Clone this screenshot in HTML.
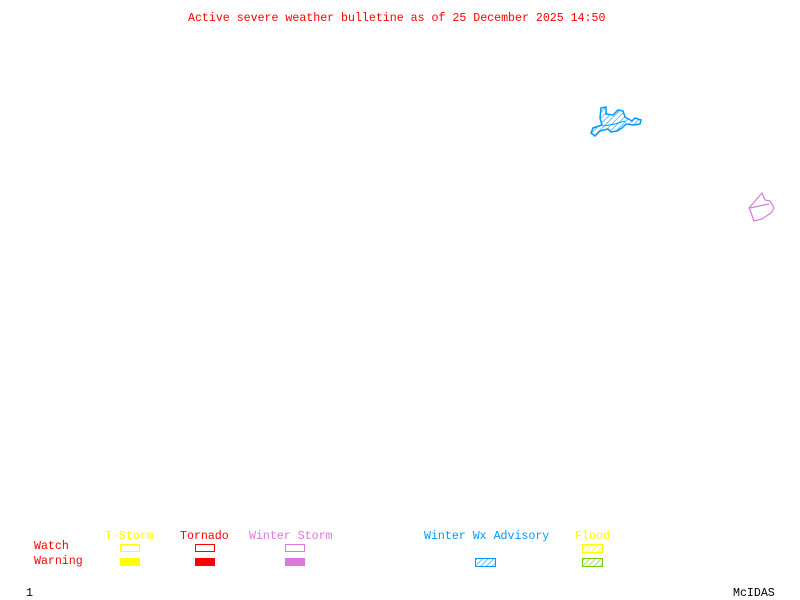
<!DOCTYPE html>
<html><head><style>
body{margin:0;width:800px;height:600px;background:#fff;position:relative;overflow:hidden;font-family:"Liberation Mono",monospace;font-size:11.6px}
.t{position:absolute;white-space:pre;line-height:12px}
.b{position:absolute;width:20px;height:8px;box-sizing:border-box}
</style></head><body>
<div class="t" style="left:188px;top:13px;color:#f00">Active severe weather bulletine as of 25 December 2025 14:50</div>
<svg width="800" height="600" style="position:absolute;left:0;top:0">
<defs>
<pattern id="hb" width="4" height="4" patternUnits="userSpaceOnUse" patternTransform="rotate(45)"><line x1="0" y1="0" x2="0" y2="4" stroke="#09f" stroke-width="1.2"/></pattern>
<pattern id="hy" width="4" height="4" patternUnits="userSpaceOnUse" patternTransform="rotate(45)"><line x1="0" y1="0" x2="0" y2="4" stroke="#ff0" stroke-width="1.2"/></pattern>
<pattern id="hg" width="4" height="4" patternUnits="userSpaceOnUse" patternTransform="rotate(45)"><line x1="0" y1="0" x2="0" y2="4" stroke="#7c0" stroke-width="1.2"/></pattern>
</defs>
<polygon points="593,128 602,125 600,118 601,108 606,107 606,114 613,115 618,110 623,111 625,117 632,121 635,118 641,120 640,124 633,125 626,124 622,128 617,131 611,132 608,129 600,131 595,136 591,133" fill="url(#hb)" stroke="#09f" stroke-width="1.5"/>
<polyline points="603,126 615,124 625,121" fill="none" stroke="#09f" stroke-width="1"/>
<polygon points="749,208 762,193 765,200 770,201 774,208 771,213 762,219 754,221 750,210" fill="none" stroke="#d7d" stroke-width="1.2"/>
<line x1="750" y1="208" x2="769" y2="204" stroke="#d7d" stroke-width="1.2"/>
<rect x="475.5" y="558.5" width="20" height="8" fill="url(#hb)" stroke="#09f"/>
<rect x="582.5" y="544.5" width="20" height="8" fill="url(#hy)" stroke="#ff0"/>
<rect x="582.5" y="558.5" width="20" height="8" fill="url(#hg)" stroke="#7c0"/>
</svg>
<div class="t" style="left:105px;top:531px;color:#ff0">T-Storm</div>
<div class="t" style="left:180px;top:531px;color:#f00">Tornado</div>
<div class="t" style="left:249px;top:531px;color:#d7d">Winter Storm</div>
<div class="t" style="left:424px;top:531px;color:#09f">Winter Wx Advisory</div>
<div class="t" style="left:575px;top:531px;color:#ff0">Flood</div>
<div class="t" style="left:34px;top:541px;color:#f00">Watch</div>
<div class="t" style="left:34px;top:556px;color:#f00">Warning</div>
<div class="b" style="left:120px;top:544px;border:1px solid #ff0"></div>
<div class="b" style="left:195px;top:544px;border:1px solid #f00"></div>
<div class="b" style="left:285px;top:544px;border:1px solid #d7d"></div>
<div class="b" style="left:120px;top:558px;background:#ff0"></div>
<div class="b" style="left:195px;top:558px;background:#f00"></div>
<div class="b" style="left:285px;top:558px;background:#d7d"></div>
<div class="t" style="left:26px;top:588px;color:#000">1</div>
<div class="t" style="left:733px;top:588px;color:#000">McIDAS</div>
</body></html>
